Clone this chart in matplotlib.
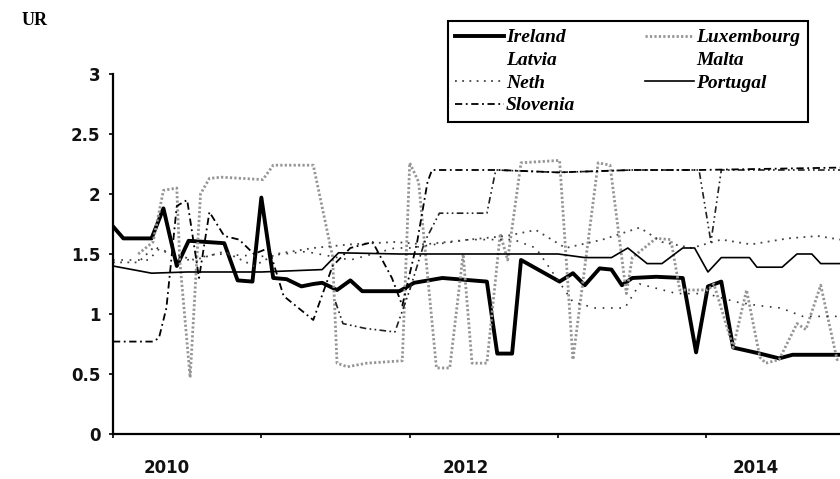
import matplotlib.pyplot as plt

# dates as decimal years
ireland_x = [2010.00, 2010.07, 2010.26, 2010.34, 2010.43, 2010.51, 2010.75, 2010.84, 2010.94, 2011.00,
             2011.08, 2011.17, 2011.27, 2011.35, 2011.41, 2011.51, 2011.60, 2011.68, 2011.93, 2012.03,
             2012.22, 2012.52, 2012.59, 2012.69, 2012.75, 2013.01, 2013.10, 2013.18, 2013.28, 2013.36,
             2013.43, 2013.50, 2013.66, 2013.84, 2013.93, 2014.01, 2014.10, 2014.18, 2014.36, 2014.49,
             2014.58, 2014.90]
ireland_y = [1.73, 1.63, 1.63, 1.88, 1.40, 1.61, 1.59, 1.28, 1.27, 1.97,
             1.30, 1.29, 1.23, 1.25, 1.26, 1.20, 1.28, 1.19, 1.19, 1.26,
             1.30, 1.27, 0.67, 0.67, 1.45, 1.27, 1.34, 1.24, 1.38, 1.37,
             1.24, 1.30, 1.31, 1.30, 0.68, 1.23, 1.27, 0.72, 0.67, 0.63,
             0.66, 0.66]

lux_x = [2010.17, 2010.27, 2010.34, 2010.43, 2010.45, 2010.52, 2010.59, 2010.65, 2010.73, 2011.01,
         2011.08, 2011.35, 2011.48, 2011.51, 2011.58, 2011.71, 2011.95, 2012.00, 2012.06, 2012.18,
         2012.27, 2012.36, 2012.42, 2012.52, 2012.61, 2012.66, 2012.75, 2013.01, 2013.10, 2013.27,
         2013.35, 2013.46, 2013.50, 2013.66, 2013.76, 2013.82, 2014.01, 2014.05, 2014.18, 2014.27,
         2014.36, 2014.40, 2014.49, 2014.61, 2014.67, 2014.77, 2014.88, 2014.90]
lux_y = [1.50, 1.60, 2.03, 2.05, 1.45, 0.47, 2.00, 2.13, 2.14, 2.12,
         2.24, 2.24, 1.48, 0.59, 0.56, 0.59, 0.61, 2.26, 2.10, 0.55,
         0.55, 1.50, 0.59, 0.59, 1.67, 1.45, 2.26, 2.28, 0.62, 2.26,
         2.24, 1.17, 1.47, 1.63, 1.62, 1.20, 1.20, 1.25, 0.72, 1.20,
         0.64, 0.59, 0.62, 0.92, 0.87, 1.24, 0.62, 0.62]

latvia_x = [2010.00, 2010.25, 2010.30, 2010.50, 2010.70, 2011.00, 2011.30, 2011.60, 2011.90, 2012.00,
            2012.40, 2012.70, 2012.85, 2013.10, 2013.25, 2013.45, 2013.55, 2013.80, 2014.00, 2014.20,
            2014.35, 2014.50, 2014.65, 2014.90]
latvia_y = [1.45, 1.45, 1.55, 1.45, 1.50, 1.48, 1.52, 1.45, 1.55, 1.55,
            1.62, 1.62, 1.55, 1.10, 1.05, 1.05, 1.25, 1.17, 1.17, 1.10,
            1.07, 1.05, 0.98, 0.98]

malta_x = [2011.50, 2011.55, 2011.70, 2011.90, 2012.00, 2012.10, 2012.20, 2012.52, 2012.58, 2013.00,
           2013.50, 2013.95, 2014.03, 2014.10, 2014.90]
malta_y = [1.10, 0.92, 0.88, 0.85, 1.20, 1.60, 1.84, 1.84, 2.20, 2.18,
           2.20, 2.20, 1.60, 2.20, 2.20]

neth_x = [2010.00, 2010.17, 2010.27, 2010.40, 2010.55, 2010.75, 2010.95, 2011.10, 2011.35, 2011.60,
          2011.90, 2012.10, 2012.40, 2012.65, 2012.85, 2013.05, 2013.30, 2013.55, 2013.70, 2013.90,
          2014.10, 2014.30, 2014.55, 2014.75, 2014.90]
neth_y = [1.43, 1.43, 1.55, 1.50, 1.45, 1.52, 1.40, 1.50, 1.55, 1.58,
          1.60, 1.58, 1.62, 1.65, 1.70, 1.55, 1.62, 1.72, 1.60, 1.55,
          1.62, 1.58, 1.63, 1.65, 1.62]

portugal_x = [2010.00, 2010.26, 2010.50, 2011.00, 2011.41, 2011.52, 2011.93, 2013.00, 2013.18, 2013.36,
              2013.47, 2013.60, 2013.70, 2013.84, 2013.92, 2014.01, 2014.10, 2014.29, 2014.34, 2014.51,
              2014.61, 2014.71, 2014.77, 2014.90]
portugal_y = [1.40, 1.34, 1.35, 1.35, 1.37, 1.51, 1.50, 1.50, 1.47, 1.47,
              1.55, 1.42, 1.42, 1.55, 1.55, 1.35, 1.47, 1.47, 1.39, 1.39,
              1.50, 1.50, 1.42, 1.42]

slovenia_x = [2010.00, 2010.27, 2010.31, 2010.36, 2010.43, 2010.50, 2010.58, 2010.65, 2010.75, 2010.85,
              2010.95, 2011.05, 2011.15, 2011.25, 2011.35, 2011.48, 2011.60, 2011.75, 2011.88, 2011.95,
              2012.05, 2012.12, 2012.15, 2012.60, 2013.00, 2013.50, 2013.95, 2014.90]
slovenia_y = [0.77, 0.77, 0.80, 1.05, 1.90, 1.95, 1.30, 1.85, 1.65, 1.62,
              1.50, 1.55, 1.15, 1.05, 0.95, 1.40, 1.55, 1.60, 1.30, 1.07,
              1.60, 2.10, 2.20, 2.20, 2.18, 2.20, 2.20, 2.22]

fig = plt.figure(figsize=(8.4, 4.79), dpi=100)
ax = fig.add_axes([0.1345, 0.094, 0.8655, 0.7515])

ireland, = ax.plot(ireland_x, ireland_y, color='black', lw=2.8, label='Ireland')
lux, = ax.plot(lux_x, lux_y, color='#959595', lw=2.0, dashes=(0.8, 0.8), label='Luxembourg')
latvia, = ax.plot(latvia_x, latvia_y, color='#333333', lw=1.2, dashes=(1, 4), label='Latvia')
malta, = ax.plot(malta_x, malta_y, color='#222222', lw=1.2, dashes=(4, 2, 1, 2, 1, 2), label='Malta')
neth, = ax.plot(neth_x, neth_y, color='#444444', lw=1.3, dashes=(1, 3), label='Neth')
portugal, = ax.plot(portugal_x, portugal_y, color='black', lw=1.2, label='Portugal')
slovenia, = ax.plot(slovenia_x, slovenia_y, color='black', lw=1.3, dashes=(4, 2, 1, 2), label='Slovenia')

ax.set_xlim(2010, 2014.9)
ax.set_ylim(0, 3)
ax.set_yticks([0, 0.5, 1, 1.5, 2, 2.5, 3])
ax.set_yticklabels(['0', '0.5', '1', '1.5', '2', '2.5', '3'])
ax.set_xticks([2010, 2011, 2012, 2013, 2014])
ax.set_xticklabels([])
ax.set_xticks([2010.36, 2012.38, 2014.33], minor=True)
ax.set_xticklabels(['2010', '2012', '2014'], minor=True)

for s in ['top', 'right']:
    ax.spines[s].set_visible(False)
for s in ['left', 'bottom']:
    ax.spines[s].set_linewidth(1.6)

ax.tick_params(axis='y', length=3, width=1.2, pad=6, labelsize=12)
ax.tick_params(axis='x', which='major', length=3, width=1.2)
ax.tick_params(axis='x', which='minor', length=0, pad=18, labelsize=12)
for lab in ax.get_yticklabels() + ax.get_xticklabels(minor=True):
    lab.set_fontweight('bold')
    lab.set_color('#111111')

fig.text(0.026, 0.958, 'UR', family='Liberation Serif', weight='bold', size=13, va='center')

handles = [ireland, latvia, neth, slovenia, lux, malta, portugal]
leg = ax.legend(handles=handles, ncol=2, loc='upper left',
                bbox_to_anchor=(0.533, 0.956), bbox_transform=fig.transFigure,
                borderaxespad=0, frameon=True, fancybox=False, framealpha=1,
                edgecolor='black', handlelength=2.5, handletextpad=0.1,
                columnspacing=3.6, labelspacing=0.26, borderpad=0.4,
                prop={'family': 'Liberation Serif', 'style': 'italic', 'weight': 'bold', 'size': 14})
leg.get_frame().set_linewidth(1.5)
# Latvia and Malta show no sample line in the key
leg.get_lines()[1].set_visible(False)
leg.get_lines()[5].set_visible(False)

fig.savefig('out.png', dpi=100)
